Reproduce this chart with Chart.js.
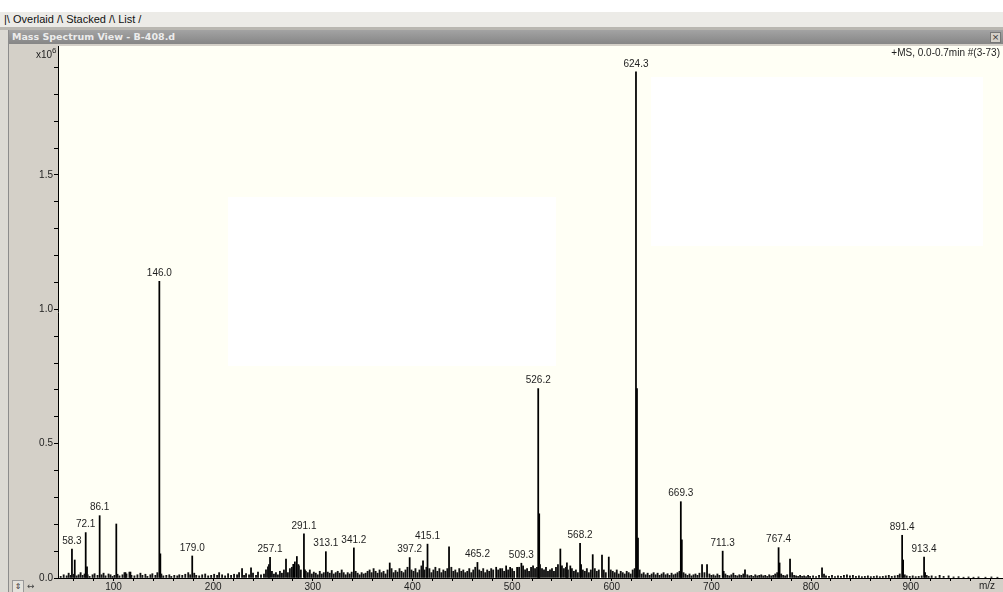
<!DOCTYPE html>
<html>
<head>
<meta charset="utf-8">
<script src="https://cdn.jsdelivr.net/npm/chart.js@4.4.0/dist/chart.umd.min.js"></script>
<style>
  body { margin: 0; width: 1003px; height: 592px; overflow: hidden; background: #fff; position: relative;
         font-family: "Liberation Sans", Arial, sans-serif; }
  #tabs { position: absolute; left: 0; top: 12px; width: 1003px; height: 15px; background: #ecebe7;
          font-size: 11px; line-height: 14px; color: #111; padding-left: 4px; box-sizing: border-box; white-space: pre; }
  #tabline { position: absolute; left: 0; top: 27px; width: 1003px; height: 3px; background: #b9b7b1; }
  #leftedge { position: absolute; left: 0; top: 30px; width: 8px; height: 562px; background: #dcdad4;
              border-right: 1px solid #8c8c8c; z-index: 2; }
  #titlebar { position: absolute; left: 9px; top: 30px; width: 994px; height: 14px;
              background: linear-gradient(#a3a3a3, #868686); color: #ececec;
              font: bold 9.5px "DejaVu Sans", sans-serif; line-height: 14px; padding-left: 3px; box-sizing: border-box; }
  #closebtn { position: absolute; right: 2px; top: 2px; width: 9px; height: 9px; background: #d4d0c8;
              border: 1px solid #777; font: 9px "DejaVu Sans"; line-height: 8px; text-align: center; color: #333; }
  #panel { position: absolute; left: 0; top: 44px; width: 1003px; height: 548px; background: #d4d0c8; }
  .blank { position: absolute; background: #fff; z-index: 3; }
  #ctrl { position: absolute; left: 12px; top: 580px; width: 10px; height: 11px; background: #e4e2dc;
          border: 1px solid #999; font: 8px "DejaVu Sans"; line-height: 11px; text-align: center; color: #333; z-index: 3; }
  #ctrl2 { position: absolute; left: 27px; top: 580px; font: 9px "DejaVu Sans"; line-height: 12px; color: #444; z-index: 3; }
</style>
</head>
<body>
<div id="tabs">|\ Overlaid /\ Stacked /\ List /</div>
<div id="tabline"></div>
<div id="leftedge"></div>
<div id="titlebar">Mass Spectrum View - B-408.d<div id="closebtn">×</div></div>
<div id="panel"><canvas id="spec" width="1003" height="548"></canvas></div>
<div class="blank" style="left:228px; top:197px; width:328px; height:169px;"></div>
<div class="blank" style="left:651px; top:77px; width:332px; height:169px;"></div>
<div id="ctrl">⇕</div>
<div id="ctrl2">↔</div>

<script>
// labelled peaks (m/z, intensity x10^6)
const peakMz  = [58.3, 72.1, 86.1, 146.0, 179.0, 257.1, 291.1, 313.1, 341.2, 397.2, 415.1,
                 465.2, 509.3, 526.2, 568.2, 624.3, 669.3, 711.3, 767.4, 891.4, 913.4];
const peakInt = [0.108, 0.169, 0.232, 1.104, 0.082, 0.077, 0.164, 0.098, 0.112, 0.076, 0.126,
                 0.058, 0.055, 0.705, 0.129, 1.884, 0.284, 0.100, 0.113, 0.159, 0.078];

// unlabelled peaks and isotopes
const minorMz  = [61.1, 73.4, 102.8, 112, 117, 147.0, 229, 238, 273.1, 280.4, 282, 284, 285.5, 292.1,
                  377.2, 410.6, 436.7, 484, 488, 494, 498, 505, 527.2, 548.4, 555, 558.4, 569.2,
                  580.9, 590.2, 597.0, 625.3, 626.3, 670.3, 690.6, 695.6, 712.3, 733.7, 768.4,
                  778.9, 811.0, 892.4, 914.4];
const minorInt = [0.067, 0.042, 0.201, 0.02, 0.022, 0.090, 0.035, 0.038, 0.070, 0.051, 0.060, 0.080, 0.050, 0.030,
                  0.056, 0.064, 0.116, 0.040, 0.035, 0.045, 0.040, 0.040, 0.239, 0.108, 0.056, 0.045, 0.050,
                  0.087, 0.085, 0.078, 0.705, 0.149, 0.142, 0.050, 0.050, 0.025, 0.030, 0.056,
                  0.070, 0.038, 0.067, 0.020];

// baseline noise [m/z, intensity]
const noise = [
  [47,.006],[50,.012],[53,.008],[55,.018],[57,.01],[60,.014],[63,.008],[65,.012],[67,.02],[69,.01],
  [71,.015],[74,.012],[76,.006],[79,.012],[81,.016],[84,.01],[88,.012],[90,.018],[92,.008],[95,.015],
  [97,.012],[99,.006],[101,.01],[104,.014],[106,.008],[109,.012],[111,.02],[113,.015],[116,.022],[118,.01],
  [121,.008],[124,.012],[127,.018],[129,.01],[132,.014],[134,.006],[137,.012],[139,.016],[142,.01],[144,.02],
  [148,.015],[150,.008],[153,.01],[156,.012],[158,.006],[161,.01],[164,.008],[166,.012],[169,.01],[172,.014],
  [175,.02],[177,.012],[181,.018],[183,.01],[186,.008],[189,.012],[192,.015],[195,.008],[198,.01],[201,.014],
  [204,.01],[206,.02],[209,.012],[212,.008],[215,.016],[218,.01],[221,.014],[224,.012],[226,.02],[231,.01],
  [233,.016],[236,.012],[240,.018],[243,.01],[245,.022],[248,.012],[251,.015],[253,.03],[255,.042],[256,.05],
  [259,.025],[261,.015],[263,.02],[265,.012],[267,.025],[269,.018],[271,.03],[275,.02],[277,.035],[279,.04],
  [286,.045],[288,.03],[293,.025],[295,.02],[297,.03],[299,.015],[301,.022],[303,.018],[305,.012],[307,.025],
  [309,.015],[311,.02],[315,.022],[317,.018],[319,.028],[321,.015],[323,.02],[325,.025],[327,.018],[329,.03],
  [331,.02],[333,.012],[335,.02],[337,.015],[339,.022],[343,.025],[345,.018],[347,.012],[349,.02],[351,.015],
  [353,.018],[355,.025],[357,.03],[359,.02],[361,.035],[363,.025],[365,.018],[367,.03],[369,.02],[371,.025],
  [373,.015],[375,.03],[379,.035],[381,.02],[383,.028],[385,.022],[387,.035],[389,.025],[391,.02],[393,.03],
  [395,.04],[399,.03],[401,.025],[403,.035],[405,.02],[407,.03],[409,.045],[412,.03],[414,.04],[417,.035],
  [419,.02],[421,.03],[423,.04],[425,.025],[427,.035],[429,.02],[431,.03],[433,.025],[435,.035],[439,.04],
  [441,.025],[443,.03],[445,.02],[447,.035],[449,.025],[451,.03],[453,.02],[455,.025],[457,.035],[459,.02],
  [461,.03],[463,.04],[467,.03],[469,.025],[471,.035],[473,.02],[475,.03],[477,.025],[479,.035],[481,.03],
  [486,.03],[490,.035],[492,.025],[496,.03],[500,.035],[502,.025],[507,.04],[511,.045],[513,.03],[515,.035],
  [517,.025],[519,.04],[521,.045],[523,.035],[525,.04],[528,.05],[530,.035],[532,.03],[534,.04],[536,.025],
  [538,.03],[540,.035],[542,.025],[544,.04],[546,.05],[550,.045],[552,.035],[554,.04],[556,.03],[560,.035],
  [562,.025],[564,.03],[566,.02],[571,.03],[573,.025],[575,.035],[577,.02],[579,.03],[583,.035],[585,.025],
  [587,.03],[592,.03],[594,.02],[599,.03],[601,.025],[603,.02],[605,.03],[607,.015],[609,.025],[611,.02],
  [613,.015],[615,.025],[617,.02],[619,.015],[621,.03],[623,.035],[628,.03],[630,.015],[632,.02],[634,.012],
  [636,.018],[638,.01],[640,.015],[642,.02],[644,.012],[646,.018],[648,.01],[650,.015],[652,.02],[654,.012],
  [656,.016],[658,.01],[660,.018],[662,.012],[664,.015],[666,.02],[668,.025],[672,.02],[674,.015],[676,.01],
  [678,.015],[680,.008],[682,.012],[684,.015],[686,.01],[688,.018],[693,.02],[698,.015],[700,.01],[702,.012],
  [704,.008],[706,.015],[708,.01],[714,.015],[716,.01],[718,.008],[720,.012],[722,.018],[724,.01],[726,.008],
  [728,.012],[730,.01],[732,.015],[736,.012],[738,.008],[740,.01],[742,.006],[744,.012],[746,.008],[748,.01],
  [750,.012],[752,.008],[754,.01],[756,.006],[758,.012],[760,.008],[762,.01],[764,.015],[766,.02],[770,.015],
  [772,.01],[774,.008],[776,.012],[781,.02],[783,.01],[785,.008],[787,.006],[789,.01],[791,.006],[793,.008],
  [795,.005],[797,.01],[799,.006],[802,.008],[805,.005],[808,.01],[813,.015],[815,.008],[818,.006],[821,.01],
  [824,.005],[827,.008],[830,.006],[833,.01],[836,.012],[839,.008],[842,.01],[845,.006],[848,.008],[851,.005],
  [854,.006],[857,.008],[860,.005],[863,.006],[866,.008],[869,.005],[872,.006],[875,.008],[878,.01],[881,.006],
  [884,.008],[887,.01],[889,.015],[894,.012],[896,.008],[899,.006],[902,.008],[905,.005],[908,.006],[911,.008],
  [916,.01],[918,.006],[921,.008],[925,.005],[929,.01],[933,.006],[938,.008],[943,.004],[948,.005],[953,.003],
  [958,.004],[963,.003],[968,.004],[975,.003],[981,.004],[987,.003]
];

const xTickLabels = [100, 200, 300, 400, 500, 600, 700, 800, 900];
const yTickLabels = ['0.0', '0.5', '1.0', '1.5'];

const tickFont = { family: '"Liberation Sans", Arial, sans-serif', size: 10 };

// cream plot background, extends to the right edge
const bgPlugin = {
  id: 'bg',
  beforeDraw(chart) {
    const ctx = chart.ctx, a = chart.chartArea;
    ctx.save();
    ctx.fillStyle = '#fffff5';
    ctx.fillRect(a.left, a.top, chart.width - a.left, a.bottom - a.top);
    ctx.restore();
  }
};

// peak labels and annotation texts
const textPlugin = {
  id: 'texts',
  afterDatasetsDraw(chart) {
    const ctx = chart.ctx, xs = chart.scales.x, ys = chart.scales.y, a = chart.chartArea;
    ctx.save();
    ctx.fillStyle = '#1e1e1e';
    ctx.font = '10px "Liberation Sans", Arial, sans-serif';
    ctx.textAlign = 'center';
    ctx.textBaseline = 'bottom';
    peakMz.forEach((m, i) => {
      ctx.fillText(m.toFixed(1), xs.getPixelForValue(m), ys.getPixelForValue(peakInt[i]) - 3);
    });
    ctx.textAlign = 'right';
    ctx.textBaseline = 'top';
    ctx.fillText('+MS, 0.0-0.7min #(3-73)', chart.width - 3, a.top + 2);
    ctx.textBaseline = 'alphabetic';
    ctx.fillText('x10', a.left - 6, a.top + 12);
    ctx.textAlign = 'left';
    ctx.font = '8px "Liberation Sans", Arial, sans-serif';
    ctx.fillText('6', a.left - 6, a.top + 7);
    ctx.font = '10px "Liberation Sans", Arial, sans-serif';
    ctx.textAlign = 'right';
    ctx.textBaseline = 'middle';
    ctx.fillText('m/z', chart.width - 8, a.bottom + 8);
    ctx.restore();
  }
};

new Chart('spec', {
  type: 'bar',
  data: {
    datasets: [
      { data: noise.map(p => ({ x: p[0], y: p[1] })), backgroundColor: '#111', barThickness: 1.2, grouped: false },
      { data: minorMz.map((m, i) => ({ x: m, y: minorInt[i] })), backgroundColor: '#000', barThickness: 1.1, grouped: false },
      { data: peakMz.map((m, i) => ({ x: m, y: peakInt[i] })), backgroundColor: '#000', barThickness: 1.1, grouped: false }
    ]
  },
  options: {
    responsive: false,
    animation: false,
    layout: { padding: { top: 2, right: 1, left: 0, bottom: 0 } },
    plugins: { legend: { display: false }, tooltip: { enabled: false } },
    scales: {
      x: {
        type: 'linear',
        offset: false,
        min: 44.3,
        max: 991.6,
        afterFit(s) { s.height = 14; s.paddingLeft = 0; s.paddingRight = 0; },
        border: { display: true, color: '#000', width: 1 },
        grid: { display: true, offset: false, drawOnChartArea: false, drawTicks: true, tickLength: 3, color: '#000' },
        ticks: {
          stepSize: 20, includeBounds: false, autoSkip: false, maxTicksLimit: 100, maxRotation: 0,
          padding: 0, color: '#1e1e1e', font: tickFont,
          callback: v => xTickLabels.includes(v) ? String(v) : ''
        }
      },
      y: {
        min: 0,
        max: 1.98,
        afterFit(s) { s.width = 58; s.paddingTop = 0; s.paddingBottom = 0; },
        border: { display: true, color: '#000', width: 1 },
        grid: { display: true, drawOnChartArea: false, drawTicks: true, tickLength: 4, color: '#000' },
        ticks: {
          stepSize: 0.1, includeBounds: false, autoSkip: false, maxTicksLimit: 100,
          padding: 1, color: '#1e1e1e', font: tickFont,
          callback: v => {
            const s = (Math.round(v * 10) / 10).toFixed(1);
            return yTickLabels.includes(s) ? s : '';
          }
        }
      }
    }
  },
  plugins: [bgPlugin, textPlugin]
});
</script>
</body>
</html>
